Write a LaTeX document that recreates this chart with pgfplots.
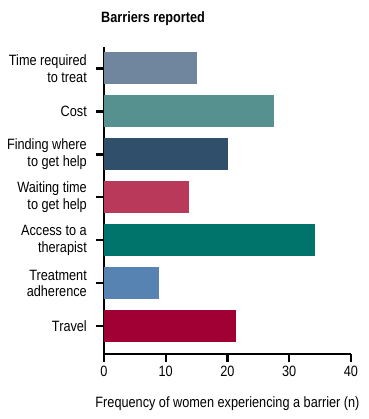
\documentclass[border=0pt]{standalone}
\usepackage{fontspec}
\setmainfont{Liberation Sans}[FakeStretch=0.85]
\usepackage{pgfplots}
\pgfplotsset{compat=1.18}
\definecolor{cTime}{HTML}{70869F}
\definecolor{cCost}{HTML}{56918F}
\definecolor{cFind}{HTML}{2F4F6B}
\definecolor{cWait}{HTML}{B8395A}
\definecolor{cAccess}{HTML}{00736B}
\definecolor{cTreat}{HTML}{5783B3}
\definecolor{cTravel}{HTML}{A10034}
\begin{document}
\begin{tikzpicture}[x=1bp,y=1bp]
\useasboundingbox (0,0) rectangle (369,419);
\node[anchor=west,font=\bfseries\fontsize{15}{17}\selectfont,inner sep=0pt] at (101,400) {Barriers reported};
\begin{axis}[
  at={(104bp,65bp)}, anchor=south west,
  scale only axis, width=247bp, height=307bp,
  xmin=0, xmax=40, ymin=-0.65, ymax=6.5,
  xbar, bar width=32bp,
  axis lines*=left,
  axis line style={line width=2.4bp,-},
  every tick/.style={line width=2.4bp, black},
  tick align=outside, major tick length=8bp,
  xtick={0,10,20,30,40},
  ytick={0,1,2,3,4,5,6},
  yticklabels={Travel,{Treatment\\adherence},{Access to a\\therapist},{Waiting time\\to get help},{Finding where\\to get help},Cost,{Time required\\to treat}},
  yticklabel style={align=right, font=\fontsize{15}{16.5}\selectfont, inner xsep=1bp, xshift=-8bp},
  xticklabel style={font=\fontsize{15}{17}\selectfont, yshift=-1bp},
  /pgf/number format/assume math mode=true,
  xlabel={Frequency of women experiencing a barrier (n)},
  xlabel style={font=\fontsize{15}{17}\selectfont, yshift=-13bp},
  clip=false,
]
\addplot[fill=cTravel, draw=none, bar shift=0pt] coordinates {(21.4,0)};
\addplot[fill=cTreat, draw=none, bar shift=0pt] coordinates {(8.9,1)};
\addplot[fill=cAccess, draw=none, bar shift=0pt] coordinates {(34.2,2)};
\addplot[fill=cWait, draw=none, bar shift=0pt] coordinates {(13.8,3)};
\addplot[fill=cFind, draw=none, bar shift=0pt] coordinates {(20.1,4)};
\addplot[fill=cCost, draw=none, bar shift=0pt] coordinates {(27.5,5)};
\addplot[fill=cTime, draw=none, bar shift=0pt] coordinates {(15.0,6)};
\end{axis}
\end{tikzpicture}
\end{document}
